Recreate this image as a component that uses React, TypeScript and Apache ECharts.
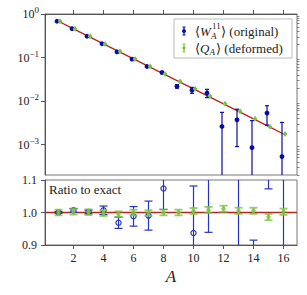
import React, { useEffect, useRef } from "react";
import * as echarts from "echarts";

// ---- data ----
const sizes = [1, 2, 3, 4, 5, 6, 7, 8, 9, 10, 11, 12, 13, 14, 15, 16];
const exactValue = [0.68, 0.457, 0.307, 0.206, 0.139, 0.093, 0.0627, 0.0421, 0.0283, 0.019, 0.01278, 0.00859, 0.00577, 0.00388, 0.00261, 0.00175];
const originalValue = [0.68, 0.46, 0.3076, 0.2074, 0.1346, 0.0919, 0.0621, 0.0452, 0.0218, 0.0178, 0.0153, 0.0026, 0.0037, 0.00085, 0.0053, 0.00053];
const originalError = [0.002, 0.0027, 0.0018, 0.0027, 0.0024, 0.0028, 0.0028, 0.0027, 0.002, 0.00275, 0.0033, 0.0029, 0.0028, 0.0027, 0.0025, 0.0027];
const deformedValue = [0.68, 0.458, 0.3073, 0.2056, 0.1383, 0.093, 0.0626, 0.0421, 0.0283, 0.01908, 0.01288, 0.00869, 0.0058, 0.0039, 0.002573, 0.001754];
const deformedError = [0.006, 0.004, 0.0027, 0.0018, 0.0012, 0.0008, 0.00055, 0.00037, 0.00025, 0.00018, 0.00012, 0.00008, 0.000055, 0.000037, 0.000025, 0.000017];

const xTicks = [2, 4, 6, 8, 10, 12, 14, 16];
const logTicks = [-3, -2, -1, 0];
const ratioTicks = [0.9, 1.0, 1.1];
const X_MIN = 0.1;
const X_MAX = 16.9;
const LOG_MIN = Math.log10(2e-4);

const FONT = "'Liberation Serif', 'DejaVu Serif', serif";
const BLUE_TOP = "#0a0aa8";
const BLUE_LOW = "#2434c4";
const GREEN = "#7cc242";
const RED = "#b3261c";

function errorBar(opts: any) {
  return (params: any, api: any) => {
    const cs = params.coordSys;
    const yTop = cs.y;
    const yBot = cs.y + cs.height;
    const x = api.value(0) + opts.dx;
    const v = api.value(1);
    const e = api.value(2);
    const toY = (val: number) =>
      opts.log ? (val > 0 ? api.coord([x, Math.log10(val)])[1] : Infinity) : api.coord([x, val])[1];
    const px = api.coord([x, opts.log ? Math.log10(v) : v])[0];
    const yc = toY(v);
    const y1 = toY(v + e);
    const y2 = toY(v - e);
    const style = { stroke: opts.color, lineWidth: opts.lw, opacity: opts.opacity };
    const children: any[] = [];
    const a = Math.max(y1, yTop);
    const b = Math.min(y2, yBot);
    if (a < b) children.push({ type: "line", shape: { x1: px, y1: a, x2: px, y2: b }, style });
    for (const yy of [y1, y2]) {
      if (yy >= yTop && yy <= yBot)
        children.push({ type: "line", shape: { x1: px - opts.cap, y1: yy, x2: px + opts.cap, y2: yy }, style });
    }
    if (yc >= yTop && yc <= yBot) {
      if (opts.marker === "dot") {
        children.push({ type: "circle", shape: { cx: px, cy: yc, r: opts.ms }, style: { fill: opts.color, opacity: opts.opacity } });
      } else if (opts.marker === "ring") {
        children.push({ type: "circle", shape: { cx: px, cy: yc, r: opts.ms }, style: { fill: "none", stroke: opts.color, lineWidth: 1.2, opacity: opts.opacity } });
      } else {
        const w = opts.ms * 0.7;
        const h = opts.ms;
        children.push({
          type: "polygon",
          shape: { points: [[px, yc - h], [px + w, yc], [px, yc + h], [px - w, yc]] },
          style: { fill: opts.color, opacity: opts.opacity },
        });
      }
    }
    return { type: "group", children };
  };
}

export default function App() {
  const ref = useRef<HTMLDivElement>(null);
  useEffect(() => {
    if (!ref.current) return;
    const chart = echarts.init(ref.current, null, { renderer: "svg" });

    const minorTicks: number[] = [];
    for (let d = -4; d <= -1; d++) {
      for (let k = 2; k <= 9; k++) {
        const lv = Math.log10(k * Math.pow(10, d));
        if (lv > LOG_MIN - 1e-9 && lv < 0) minorTicks.push(lv);
      }
    }

    const topData = sizes.map((a, i) => [a, originalValue[i], originalError[i]]);
    const topDataG = sizes.map((a, i) => [a, deformedValue[i], deformedError[i]]);
    const ratioB = sizes.map((a, i) => [a, originalValue[i] / exactValue[i], originalError[i] / exactValue[i]]);
    const ratioG = sizes.map((a, i) => [a, deformedValue[i] / exactValue[i], deformedError[i] / exactValue[i]]);

    const tickStyle = { color: "#555", width: 1 };
    const labelStyle = { fontFamily: FONT, fontSize: 12, color: "#222" };

    chart.setOption({
      animation: false,
      backgroundColor: "#fff",
      grid: [
        { left: 45, top: 14, width: 252, height: 161, show: true, borderColor: "#777", borderWidth: 1, outerBoundsMode: "none", containLabel: false },
        { left: 45, top: 180, width: 252, height: 65, show: true, borderColor: "#777", borderWidth: 1, outerBoundsMode: "none", containLabel: false },
      ],
      xAxis: [
        {
          type: "value", gridIndex: 0, min: X_MIN, max: X_MAX,
          axisLine: { lineStyle: { color: "#555" } },
          axisTick: { inside: true, length: 4, customValues: xTicks, lineStyle: tickStyle },
          axisLabel: { show: false },
          splitLine: { show: false },
        },
        {
          type: "value", gridIndex: 1, min: X_MIN, max: X_MAX,
          axisLine: { lineStyle: { color: "#555" } },
          axisTick: { length: 4, customValues: xTicks, lineStyle: tickStyle },
          axisLabel: { customValues: xTicks, margin: 7, ...labelStyle },
          splitLine: { show: false },
          name: "A", nameLocation: "middle", nameGap: 23,
          nameTextStyle: { fontFamily: FONT, fontStyle: "italic", fontSize: 17, color: "#222" },
        },
      ],
      yAxis: [
        {
          type: "value", gridIndex: 0, min: LOG_MIN, max: 0,
          axisLine: { show: true, lineStyle: { color: "#555" } },
          axisTick: { show: true, length: 4, customValues: logTicks, lineStyle: tickStyle },
          axisLabel: {
            customValues: logTicks, margin: 6,
            formatter: (v: number) => `10{sup|${Math.round(v) === 0 ? "0" : "\u2212" + Math.abs(Math.round(v))}}`,
            ...labelStyle,
            rich: { sup: { fontFamily: FONT, fontSize: 9, color: "#222", padding: [0, 0, 8, 0] } },
          },
          splitLine: { show: false },
        },
        {
          type: "value", gridIndex: 1, min: 0.9, max: 1.1,
          axisLine: { show: true, lineStyle: { color: "#555" } },
          axisTick: { show: true, length: 4, customValues: ratioTicks, lineStyle: tickStyle },
          axisLabel: { customValues: ratioTicks, margin: 8, formatter: (v: number) => v.toFixed(1), ...labelStyle },
          splitLine: { show: false },
        },
        {
          type: "value", gridIndex: 0, min: LOG_MIN, max: 0,
          axisLine: { show: false },
          axisTick: { show: true, length: 2.5, customValues: minorTicks, lineStyle: { color: "#666", width: 0.8 } },
          axisLabel: { show: false },
          splitLine: { show: false },
        },
      ],
      series: [
        {
          type: "line", xAxisIndex: 0, yAxisIndex: 0, symbol: "none", z: 2,
          data: sizes.map((a, i) => [a, Math.log10(exactValue[i])]),
          lineStyle: { color: RED, width: 1.3 },
        },
        {
          type: "custom", xAxisIndex: 0, yAxisIndex: 0, z: 3, clip: false,
          encode: { x: 0, y: 1 }, data: topData,
          renderItem: errorBar({ log: true, dx: -0.1, color: BLUE_TOP, lw: 1.2, cap: 2, marker: "dot", ms: 2.4, opacity: 1 }),
        },
        {
          type: "custom", xAxisIndex: 0, yAxisIndex: 0, z: 4, clip: false,
          encode: { x: 0, y: 1 }, data: topDataG,
          renderItem: errorBar({ log: true, dx: 0.1, color: GREEN, lw: 1.2, cap: 2, marker: "diamond", ms: 3, opacity: 1 }),
        },
        {
          type: "line", xAxisIndex: 1, yAxisIndex: 1, symbol: "none", z: 2,
          data: [[X_MIN, 1], [X_MAX, 1]],
          lineStyle: { color: RED, width: 1.3 },
        },
        {
          type: "custom", xAxisIndex: 1, yAxisIndex: 1, z: 3, clip: false,
          encode: { x: 0, y: 1 }, data: ratioB,
          renderItem: errorBar({ log: false, dx: 0, color: BLUE_LOW, lw: 1.2, cap: 4, marker: "ring", ms: 2.6, opacity: 1 }),
        },
        {
          type: "custom", xAxisIndex: 1, yAxisIndex: 1, z: 4, clip: false,
          encode: { x: 0, y: 1 }, data: ratioG,
          renderItem: errorBar({ log: false, dx: 0, color: GREEN, lw: 1.8, cap: 4, marker: "diamond", ms: 3.5, opacity: 0.8 }),
        },
      ],
      graphic: [
        { type: "rect", shape: { x: 174, y: 19, width: 118, height: 39 }, style: { fill: "#fff", stroke: "#bbb", lineWidth: 1 }, z: 10 },
        // legend icons
        { type: "line", shape: { x1: 184, y1: 27, x2: 184, y2: 35 }, style: { stroke: BLUE_TOP, lineWidth: 1.2 }, z: 11 },
        { type: "line", shape: { x1: 182.5, y1: 27, x2: 185.5, y2: 27 }, style: { stroke: BLUE_TOP, lineWidth: 1 }, z: 11 },
        { type: "line", shape: { x1: 182.5, y1: 35, x2: 185.5, y2: 35 }, style: { stroke: BLUE_TOP, lineWidth: 1 }, z: 11 },
        { type: "circle", shape: { cx: 184, cy: 31, r: 2 }, style: { fill: BLUE_TOP }, z: 11 },
        { type: "line", shape: { x1: 184, y1: 44, x2: 184, y2: 52 }, style: { stroke: GREEN, lineWidth: 1.2 }, z: 11 },
        { type: "line", shape: { x1: 182.5, y1: 44, x2: 185.5, y2: 44 }, style: { stroke: GREEN, lineWidth: 1 }, z: 11 },
        { type: "line", shape: { x1: 182.5, y1: 52, x2: 185.5, y2: 52 }, style: { stroke: GREEN, lineWidth: 1 }, z: 11 },
        { type: "polygon", shape: { points: [[184, 45.5], [185.8, 48], [184, 50.5], [182.2, 48]] }, style: { fill: GREEN }, z: 11 },
        // legend text row 1
        { type: "text", x: 195, y: 31, style: { text: "\u27E8", font: `13px ${FONT}`, fill: "#222", verticalAlign: "middle" }, z: 11 },
        { type: "text", x: 200, y: 31, style: { text: "W", font: `italic 13px ${FONT}`, fill: "#222", verticalAlign: "middle" }, z: 11 },
        { type: "text", x: 212, y: 26, style: { text: "11", font: `9px ${FONT}`, fill: "#222", verticalAlign: "middle" }, z: 11 },
        { type: "text", x: 211, y: 36, style: { text: "A", font: `italic 9px ${FONT}`, fill: "#222", verticalAlign: "middle" }, z: 11 },
        { type: "text", x: 221, y: 31, style: { text: "\u27E9 (original)", font: `13px ${FONT}`, fill: "#222", verticalAlign: "middle" }, z: 11 },
        // legend text row 2
        { type: "text", x: 195, y: 48, style: { text: "\u27E8", font: `13px ${FONT}`, fill: "#222", verticalAlign: "middle" }, z: 11 },
        { type: "text", x: 200, y: 48, style: { text: "Q", font: `italic 13px ${FONT}`, fill: "#222", verticalAlign: "middle" }, z: 11 },
        { type: "text", x: 209.5, y: 52, style: { text: "A", font: `italic 9px ${FONT}`, fill: "#222", verticalAlign: "middle" }, z: 11 },
        { type: "text", x: 216, y: 48, style: { text: "\u27E9 (deformed)", font: `13px ${FONT}`, fill: "#222", verticalAlign: "middle" }, z: 11 },
        // ratio panel title
        { type: "text", x: 49, y: 189, style: { text: "Ratio to exact", font: `13px ${FONT}`, fill: "#222", verticalAlign: "middle" }, z: 11 },
      ],
    });
    return () => chart.dispose();
  }, []);
  return <div ref={ref} style={{ position: "absolute", left: 0, top: 0, width: 307, height: 295 }} />;
}
